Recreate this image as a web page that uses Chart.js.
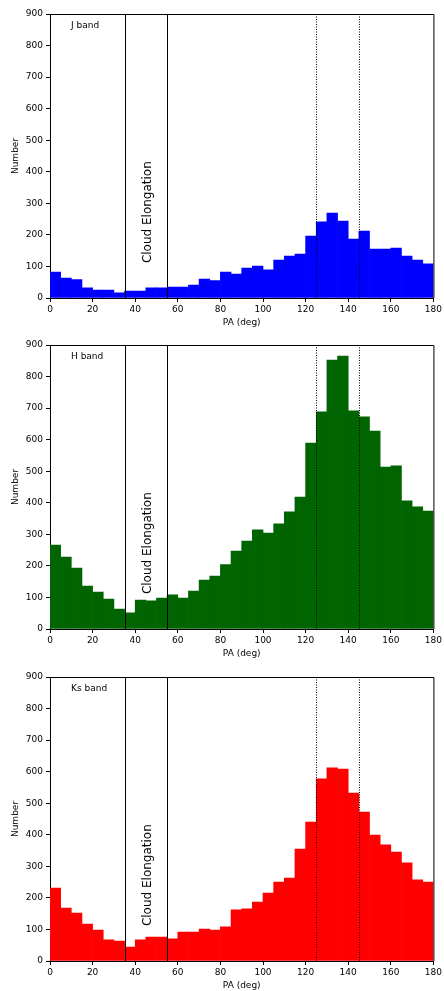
<!DOCTYPE html>
<html>
<head>
<meta charset="utf-8">
<script src="https://cdn.jsdelivr.net/npm/chart.js@4.4.0/dist/chart.umd.min.js"></script>
<style>
  html, body { margin: 0; padding: 0; background: #fff; overflow: hidden; }
  .panel { position: absolute; left: 0; width: 444px; height: 328px; }
  canvas { display: block; }
</style>
</head>
<body>
<div class="panel" style="top:0px"><canvas id="cJ" width="444" height="328"></canvas></div>
<div class="panel" style="top:331px"><canvas id="cH" width="444" height="328"></canvas></div>
<div class="panel" style="top:663px"><canvas id="cK" width="444" height="328"></canvas></div>
<script>
// Position-angle bins (left edges, degrees), 5 deg wide
const binLeft = [0, 5, 10, 15, 20, 25, 30, 35, 40, 45, 50, 55, 60, 65, 70, 75, 80, 85,
                 90, 95, 100, 105, 110, 115, 120, 125, 130, 135, 140, 145, 150, 155, 160, 165, 170, 175];
const binWidth = 5;

// Counts per bin
const jBand = [82, 63, 58, 32, 25, 25, 16, 22, 22, 32, 32, 35, 35, 41, 60, 55, 82, 76,
               95, 101, 89, 120, 133, 139, 196, 241, 269, 244, 187, 212, 155, 155, 158, 133, 120, 108];
const hBand = [266, 228, 193, 136, 117, 95, 63, 51, 92, 89, 98, 108, 98, 120, 155, 168, 204, 247,
               279, 314, 304, 333, 371, 418, 589, 688, 852, 865, 691, 672, 627, 513, 517, 406, 387, 374];
const ksBand = [231, 168, 152, 117, 98, 67, 63, 44, 67, 76, 76, 70, 92, 92, 101, 98, 108, 162,
                165, 187, 215, 250, 263, 355, 440, 577, 612, 608, 532, 472, 399, 368, 345, 311, 257, 250];

// Marker lines (degrees)
const elongationLines = [35, 55];
const peakLines = [125, 145];

const xTicks = { min: 0, max: 180, step: 20 };
const yTicks = { min: 0, max: 900, step: 100 };

const FONT = "'DejaVu Sans', sans-serif";

const annotate = {
  id: 'annotate',
  afterDatasetsDraw(chart, args, opts) {
    const { ctx, chartArea: a, scales: { x, y } } = chart;
    ctx.save();
    ctx.strokeStyle = '#000';
    ctx.lineWidth = 1;
    // frame top and right
    ctx.beginPath();
    ctx.moveTo(a.left, a.top + 0.5);
    ctx.lineTo(a.right + 0.5, a.top + 0.5);
    ctx.lineTo(a.right + 0.5, a.bottom);
    ctx.stroke();
    // solid elongation lines
    elongationLines.forEach(v => {
      const px = Math.round(x.getPixelForValue(v)) + 0.5;
      ctx.beginPath(); ctx.moveTo(px, a.top); ctx.lineTo(px, a.bottom); ctx.stroke();
    });
    // dotted lines
    ctx.setLineDash([1, 1.5]);
    peakLines.forEach(v => {
      const px = Math.round(x.getPixelForValue(v)) + 0.5;
      ctx.beginPath(); ctx.moveTo(px, a.top); ctx.lineTo(px, a.bottom); ctx.stroke();
    });
    ctx.setLineDash([]);
    // band label
    ctx.fillStyle = '#000';
    ctx.font = '9px ' + FONT;
    ctx.textAlign = 'left';
    ctx.textBaseline = 'middle';
    ctx.fillText(opts.label, a.left + 21, a.top + 12);
    // rotated caption
    ctx.translate(x.getPixelForValue(45.9), y.getPixelForValue(272));
    ctx.rotate(-Math.PI / 2);
    ctx.font = '12px ' + FONT;
    ctx.textAlign = 'center';
    ctx.fillText('Cloud Elongation', 0, 0);
    ctx.restore();
  }
};

function makePanel(id, values, color, label) {
  new Chart(document.getElementById(id), {
    type: 'bar',
    data: {
      datasets: [{
        data: binLeft.map((b, i) => ({ x: b + binWidth / 2, y: values[i] })),
        backgroundColor: color,
        borderColor: color,
        borderWidth: 0,
        barPercentage: 1,
        categoryPercentage: 1
      }]
    },
    options: {
      responsive: false,
      animation: false,
      layout: { padding: { top: 14, right: 10, left: 0, bottom: 0 } },
      plugins: { legend: { display: false }, tooltip: { enabled: false }, annotate: { label } },
      scales: {
        x: {
          type: 'linear',
          min: xTicks.min, max: xTicks.max,
          offset: false,
          afterFit(s) { s.height = 30; },
          ticks: { stepSize: xTicks.step, color: '#000', font: { family: FONT, size: 9 }, padding: 2, maxRotation: 0 },
          grid: { display: true, drawOnChartArea: false, tickLength: 4, color: '#000', offset: false },
          border: { display: true, color: '#000', width: 1 },
          title: { display: true, text: 'PA (deg)', color: '#000', font: { family: FONT, size: 9 }, padding: { top: 0, bottom: 0 } }
        },
        y: {
          min: yTicks.min, max: yTicks.max,
          afterFit(s) { s.width = 50; },
          ticks: { stepSize: yTicks.step, color: '#000', font: { family: FONT, size: 9 }, padding: 3 },
          grid: { display: true, drawOnChartArea: false, tickLength: 4, color: '#000' },
          border: { display: true, color: '#000', width: 1 },
          title: { display: true, text: 'Number', color: '#000', font: { family: FONT, size: 9 }, padding: { top: 10, bottom: 0 } }
        }
      }
    },
    plugins: [annotate]
  });
}

makePanel('cJ', jBand, '#0000ff', 'J band');
makePanel('cH', hBand, '#006400', 'H band');
makePanel('cK', ksBand, '#ff0000', 'Ks band');
</script>
</body>
</html>
